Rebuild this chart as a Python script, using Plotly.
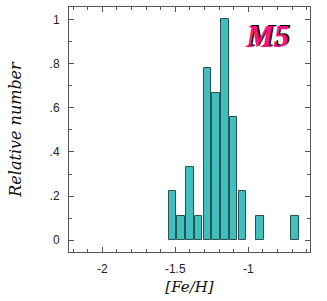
import plotly.graph_objects as go

fe_h = [-1.52, -1.46, -1.40, -1.34, -1.28, -1.22, -1.16, -1.10, -1.04, -0.92, -0.68]
rel_num = [0.222, 0.111, 0.333, 0.111, 0.778, 0.667, 1.0, 0.556, 0.222, 0.111, 0.111]
y_tickvals = [0, 0.2, 0.4, 0.6, 0.8, 1.0]
y_ticktext = ["0", ".2", ".4", ".6", ".8", "1"]
x_tickvals = [-2, -1.5, -1]
x_ticktext = ["-2", "-1.5", "-1"]

fig = go.Figure()
fig.add_trace(go.Bar(
    x=fe_h, y=rel_num, width=0.05,
    marker=dict(color="#3fbfbd", line=dict(color="#2a5252", width=1)),
))

axis_common = dict(
    showgrid=False, zeroline=False, showline=True, linecolor="#555555", linewidth=1,
    ticks="inside", ticklen=5, tickcolor="#555555", mirror="ticks", automargin=False,
    tickfont=dict(family="Liberation Sans, Arial", size=12, color="#222222"),
    minor=dict(ticks="inside", ticklen=3, tickcolor="#555555", dtick=0.1),
)
fig.update_xaxes(**axis_common, range=[-2.228, -0.577], tickvals=x_tickvals, ticktext=x_ticktext,
                 ticklabelstandoff=6,
                 minor_tick0=-2,
                 title=dict(text="[Fe/H]", font=dict(family="DejaVu Serif", size=15, style="italic", color="#111111"),
                            standoff=6))
fig.update_yaxes(**axis_common, range=[-0.053, 1.056], tickvals=y_tickvals, ticktext=y_ticktext,
                 ticklabelstandoff=6,
                 minor_tick0=0,
                 title=dict(text="Relative number", font=dict(family="DejaVu Serif", size=16, style="italic", color="#111111"),
                            standoff=23))

fig.add_annotation(x=0.82, y=0.88, xref="paper", yref="paper", text="M5", showarrow=False,
                   xanchor="center", yanchor="middle",
                   font=dict(family="Liberation Serif", size=31, color="#ff1080", weight="bold",
                             style="italic", shadow="2px -1px 0px #000000"))

fig.update_layout(
    width=327, height=301,
    margin=dict(l=69, r=17, t=7, b=49),
    plot_bgcolor="white", paper_bgcolor="white",
    showlegend=False, bargap=0,
)
fig.write_html("out.html", config={"displayModeBar": False},
               post_script="document.body.style.margin='0';")
